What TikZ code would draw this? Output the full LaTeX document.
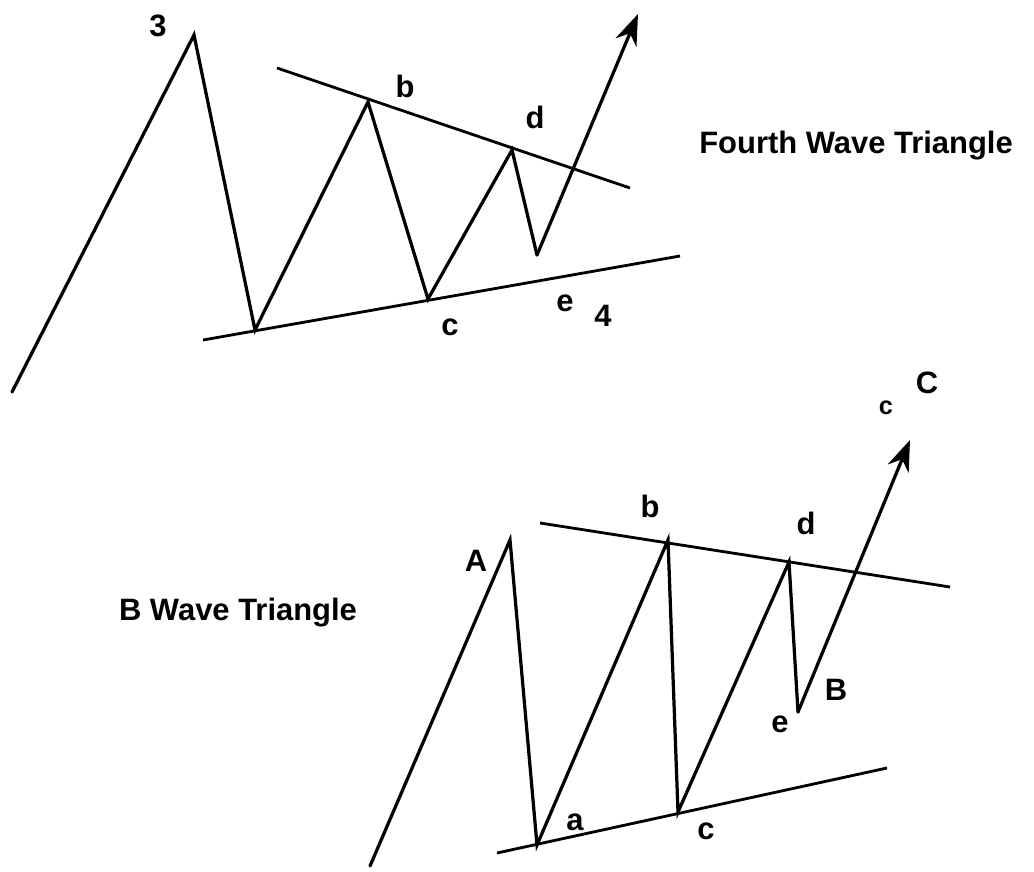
\documentclass[tikz,border=0pt]{standalone}
\usepackage{fontspec}
\setmainfont{Liberation Sans}
\usetikzlibrary{arrows.meta}
\begin{document}
\begin{tikzpicture}[x=0.025cm,y=-0.025cm,
  wave/.style={line width=2.3pt,line join=miter,line cap=round},
  trend/.style={line width=2pt},
  lbl/.style={font=\fontsize{22}{24}\selectfont\bfseries,inner sep=0pt},
  title/.style={font=\fontsize{22}{24}\selectfont\bfseries,inner sep=0pt},
  arr/.style={-{Stealth[length=22pt,width=16pt]}}]
\path[use as bounding box] (0,0) rectangle (1034,872);
% ---- Fourth wave triangle ----
\coordinate (t0) at (12,392);
\coordinate (t3) at (194,35);
\coordinate (ta) at (255,330);
\coordinate (tb) at (368,102);
\coordinate (tc) at (428,299);
\coordinate (td) at (512,150);
\coordinate (te) at (537,255);
\coordinate (tt) at (638,14);
\coordinate (tu1) at (277,68);
\coordinate (tu2) at (630,188);
\coordinate (tl1) at (203,340);
\coordinate (tl2) at (680,256);
\draw[wave] (t0) -- (t3) -- (ta) -- (tb) -- (tc) -- (td) -- (te);
\draw[wave,arr] (te) -- (tt);
\draw[trend] (tu1) -- (tu2);
\draw[trend] (tl1) -- (tl2);
\node[lbl] (l3) at (158,26) {3};
\node[lbl] (lb) at (405,86) {b};
\node[lbl] (ld) at (535,117) {d};
\node[lbl] (lc) at (450,327) {c};
\node[lbl] (le) at (565,303) {e};
\node[lbl] (l4) at (603,316) {4};
\node[title] (tt1) at (856,146) {Fourth Wave Triangle};
% ---- B wave triangle ----
\coordinate (b0) at (370,866);
\coordinate (bA) at (510,540);
\coordinate (ba) at (537,845);
\coordinate (bb) at (668,540);
\coordinate (bc) at (678,812);
\coordinate (bd) at (789,562);
\coordinate (be) at (798,712);
\coordinate (bt) at (910,440);
\coordinate (bu1) at (540,523);
\coordinate (bu2) at (950,587);
\coordinate (bl1) at (497,853);
\coordinate (bl2) at (887,768);
\draw[wave] (b0) -- (bA) -- (ba) -- (bb) -- (bc) -- (bd) -- (be);
\draw[wave,arr] (be) -- (bt);
\draw[trend] (bu1) -- (bu2);
\draw[trend] (bl1) -- (bl2);
\node[lbl] (mA) at (476,561) {A};
\node[lbl] (mb) at (650,506) {b};
\node[lbl] (md) at (806,523) {d};
\node[lbl] (me) at (780,724) {e};
\node[lbl] (mB) at (836,690) {B};
\node[lbl] (ma) at (575,822) {a};
\node[lbl] (mc) at (706,831) {c};
\node[lbl,font=\fontsize{18}{20}\selectfont\bfseries] (mc2) at (886,408) {c};
\node[lbl] (mC) at (927,383) {C};
\node[title] (tt2) at (238,613) {B Wave Triangle};
\end{tikzpicture}
\end{document}
